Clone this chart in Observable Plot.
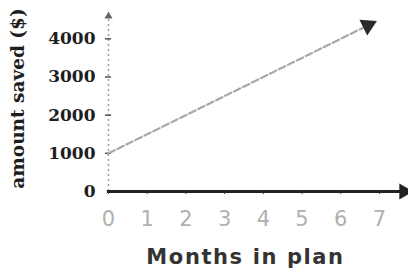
<!DOCTYPE html>
<html>
<head>
<meta charset="utf-8">
<script src="https://cdn.jsdelivr.net/npm/d3@7"></script>
<script src="https://cdn.jsdelivr.net/npm/@observablehq/plot@0.6"></script>
<style>
  html, body { margin: 0; padding: 0; background: #fff; }
  .xtitle text { letter-spacing: 1.6px; }
</style>
</head>
<body>
<div id="chart"></div>
<script>
// Data
const months = [0, 1, 2, 3, 4, 5, 6, 6.7];
const saved = [1000, 1500, 2000, 2500, 3000, 3500, 4000, 4350];
const xTicks = [0, 1, 2, 3, 4, 5, 6, 7];
const yTicks = [0, 1000, 2000, 3000, 4000];
const xLabel = "Months in plan";
const yLabel = "amount saved ($)";
const xAxisEnd = 7.75;
const yAxisEnd = 4663;

const points = months.map((m, i) => ({m, v: saved[i]}));
const last = points[points.length - 1];
const first = points[0];

const W = 408, H = 275;
const mL = 108, mR = 0, mT = 13, mB = 84;
const pxPerX = (W - mL - mR) / xAxisEnd;
const pxPerY = (H - mT - mB) / yAxisEnd;
const ang = Math.atan2(-(last.v - first.v) * pxPerY, (last.m - first.m) * pxPerX) * 180 / Math.PI;

const chart = Plot.plot({
  width: W,
  height: H,
  marginLeft: mL,
  marginRight: mR,
  marginTop: mT,
  marginBottom: mB,
  x: {domain: [0, xAxisEnd]},
  y: {domain: [0, yAxisEnd]},
  marks: [
    Plot.ruleX([0], {y1: 0, y2: yAxisEnd * 0.97, stroke: "#9a9a9a", strokeWidth: 1.5, strokeDasharray: "2,3"}),
    Plot.ruleY(yTicks.slice(1), {x1: -0.08, x2: 0.08, stroke: "#555", strokeWidth: 1.5}),
    Plot.dot([{m: 0, v: yAxisEnd * 0.985}], {x: "m", y: "v", symbol: "triangle", r: 3, fill: "#666", stroke: null}),
    Plot.line(points, {x: "m", y: "v", stroke: "#a8a8a8", strokeWidth: 2.2, strokeDasharray: "7,3"}),
    Plot.dot([last], {x: "m", y: "v", symbol: "triangle", r: 6.5, fill: "#2a2a2a", stroke: null, rotate: 90 + ang}),
    Plot.ruleY([0], {x1: -0.03, x2: xAxisEnd * 0.985, stroke: "#222", strokeWidth: 3}),
    Plot.dot([{m: xAxisEnd * 0.985, v: 0}], {x: "m", y: "v", symbol: "triangle", r: 6, fill: "#222", stroke: null, rotate: 90}),
    Plot.axisX({ticks: xTicks, tickSize: 3, tickPadding: 17, stroke: "#333", fontSize: 21, fontFamily: "DejaVu Sans", fill: "#b0b0b0", label: null}),
    Plot.axisY({ticks: yTicks, tickFormat: d => String(d), tickSize: 0, tickPadding: 13, fontSize: 17, fontWeight: "bold", fontFamily: "DejaVu Serif", fill: "#1e1e1e", label: null}),
    Plot.text([xLabel], {frameAnchor: "bottom", textAnchor: "middle", dx: -13, dy: 72, fontSize: 21, fontWeight: "bold", fontFamily: "DejaVu Sans", fill: "#333", className: "xtitle"}),
    Plot.text([yLabel], {frameAnchor: "left", textAnchor: "middle", dx: -90, dy: -4, rotate: -90, fontSize: 18.5, fontWeight: "bold", fontFamily: "DejaVu Serif", fill: "#1e1e1e"})
  ]
});
document.getElementById("chart").appendChild(chart);
</script>
</body>
</html>
